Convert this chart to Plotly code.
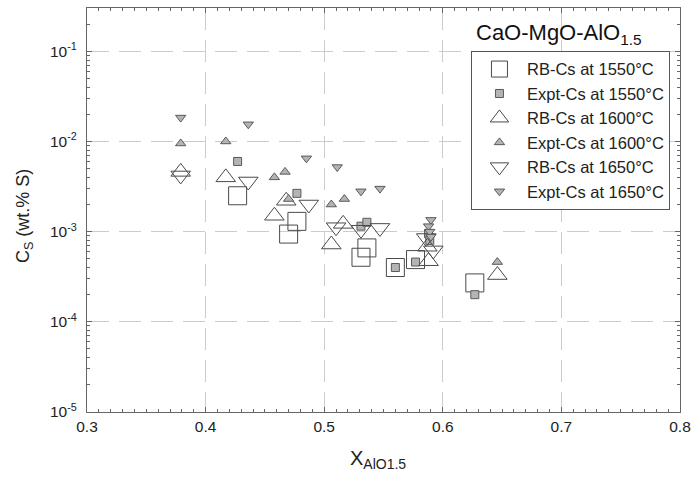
import plotly.graph_objects as go

# RB-Cs (calculated) and experimental sulfide capacities
rb1550_x = [0.427, 0.470, 0.477, 0.531, 0.536, 0.560, 0.577, 0.627]
rb1550_y = [0.0025, 0.00094, 0.0013, 0.00052, 0.00066, 0.00040, 0.00049, 0.00027]

ex1550_x = [0.427, 0.477, 0.531, 0.536, 0.560, 0.577, 0.588, 0.589, 0.627]
ex1550_y = [0.0060, 0.00266, 0.00115, 0.00127, 0.00040, 0.00046, 0.00095, 0.00080, 0.00020]

rb1600_x = [0.379, 0.417, 0.458, 0.468, 0.506, 0.516, 0.587, 0.588, 0.646]
rb1600_y = [0.0046, 0.0040, 0.0015, 0.0022, 0.00072, 0.00122, 0.00068, 0.00047, 0.00033]

ex1600_x = [0.379, 0.417, 0.458, 0.467, 0.470, 0.506, 0.517, 0.646]
ex1600_y = [0.0095, 0.0100, 0.0040, 0.0046, 0.0023, 0.0020, 0.0023, 0.00046]

rb1650_x = [0.379, 0.436, 0.487, 0.510, 0.531, 0.547, 0.586, 0.592]
rb1650_y = [0.0042, 0.0036, 0.0020, 0.00112, 0.00105, 0.00110, 0.00085, 0.00062]

ex1650_x = [0.379, 0.436, 0.485, 0.511, 0.531, 0.547, 0.590, 0.588, 0.589, 0.590]
ex1650_y = [0.0184, 0.0155, 0.0065, 0.0052, 0.0028, 0.0030, 0.00135, 0.00115, 0.00100, 0.00088]

y_tickvals = [1e-5, 1e-4, 1e-3, 1e-2, 1e-1]
y_ticktext = ["10<sup>-5</sup>", "10<sup>-4</sup>", "10<sup>-3</sup>", "10<sup>-2</sup>", "10<sup>-1</sup>"]
x_tickvals = [0.3, 0.4, 0.5, 0.6, 0.7, 0.8]
x_ticktext = ["0.3", "0.4", "0.5", "0.6", "0.7", "0.8"]

y_minor_vals = [m * d for d in [1e-5, 1e-4, 1e-3, 1e-2, 1e-1] for m in range(2, 10)]

OPEN_LINE = "#4a4a4a"
FILL = "#b4b4b4"
FILL_LINE = "#5a5a5a"
FONT = "Liberation Sans, Arial"

fig = go.Figure()

def add(x, y, name, symbol, size, filled):
    fig.add_trace(go.Scatter(
        x=x, y=y, mode="markers", name=name,
        marker=dict(symbol=symbol, size=size,
                    color=FILL if filled else "rgba(255,255,255,0)",
                    line=dict(color=FILL_LINE if filled else OPEN_LINE, width=1)),
    ))

add(rb1550_x, rb1550_y, "RB-Cs at 1550°C", "square", 18, False)
add(ex1550_x, ex1550_y, "Expt-Cs at 1550°C", "square", 8, True)
add(rb1600_x, rb1600_y, "RB-Cs at 1600°C", "triangle-up", 17, False)
add(ex1600_x, ex1600_y, "Expt-Cs at 1600°C", "triangle-up", 9, True)
add(rb1650_x, rb1650_y, "RB-Cs at 1650°C", "triangle-down", 17, False)
add(ex1650_x, ex1650_y, "Expt-Cs at 1650°C", "triangle-down", 9, True)

axis_common = dict(
    showline=True, linecolor="#666666", linewidth=1, mirror="ticks",
    ticks="inside", ticklen=5, tickcolor="#666666",
    showgrid=True, gridcolor="#cccccc", gridwidth=1, griddash="22px,10px",
    zeroline=False,
    tickfont=dict(family=FONT, size=15.5, color="#222222"),
)

fig.update_xaxes(
    range=[0.3, 0.8], tickvals=x_tickvals, ticktext=x_ticktext,
    minor=dict(dtick=0.01, ticks="inside", ticklen=3, tickcolor="#666666", showgrid=False),
    **axis_common,
)
fig.update_yaxes(
    type="log", range=[-5, -0.52], tickvals=y_tickvals, ticktext=y_ticktext,
    ticklabelstandoff=6,
    minor=dict(tickvals=y_minor_vals, ticks="inside", ticklen=3, tickcolor="#666666", showgrid=False),
    **axis_common,
)

# axis titles
fig.add_annotation(
    x=0.49, y=-0.118, xref="paper", yref="paper", xanchor="center", yanchor="middle",
    text="X<sub>AlO1.5</sub>", showarrow=False,
    font=dict(family=FONT, size=20, color="#222222"),
)
fig.add_annotation(
    x=-0.1055, y=0.486, xref="paper", yref="paper", xanchor="center", yanchor="middle",
    text="C<sub>S</sub> (wt.% S)", showarrow=False, textangle=-90,
    font=dict(family=FONT, size=18, color="#222222"),
)

fig.add_annotation(
    x=0.653, y=0.935, xref="paper", yref="paper", xanchor="left", yanchor="middle",
    text="CaO-MgO-AlO<sub>1.5</sub>", showarrow=False,
    font=dict(family=FONT, size=22, color="#111111"),
)

fig.update_layout(
    width=698, height=481,
    margin=dict(l=87, r=14, t=7, b=69),
    paper_bgcolor="white", plot_bgcolor="white",
    showlegend=True,
    legend=dict(
        x=0.6475, y=0.894, xanchor="left", yanchor="top",
        bgcolor="white", bordercolor="#555555", borderwidth=1,
        font=dict(family=FONT, size=16.5, color="#222222"),
        itemwidth=45, tracegroupgap=0,
    ),
)

fig.write_html(
    "out.html",
    config={"displayModeBar": False},
    post_script="document.body.style.margin='0';document.body.style.overflow='hidden';",
)
